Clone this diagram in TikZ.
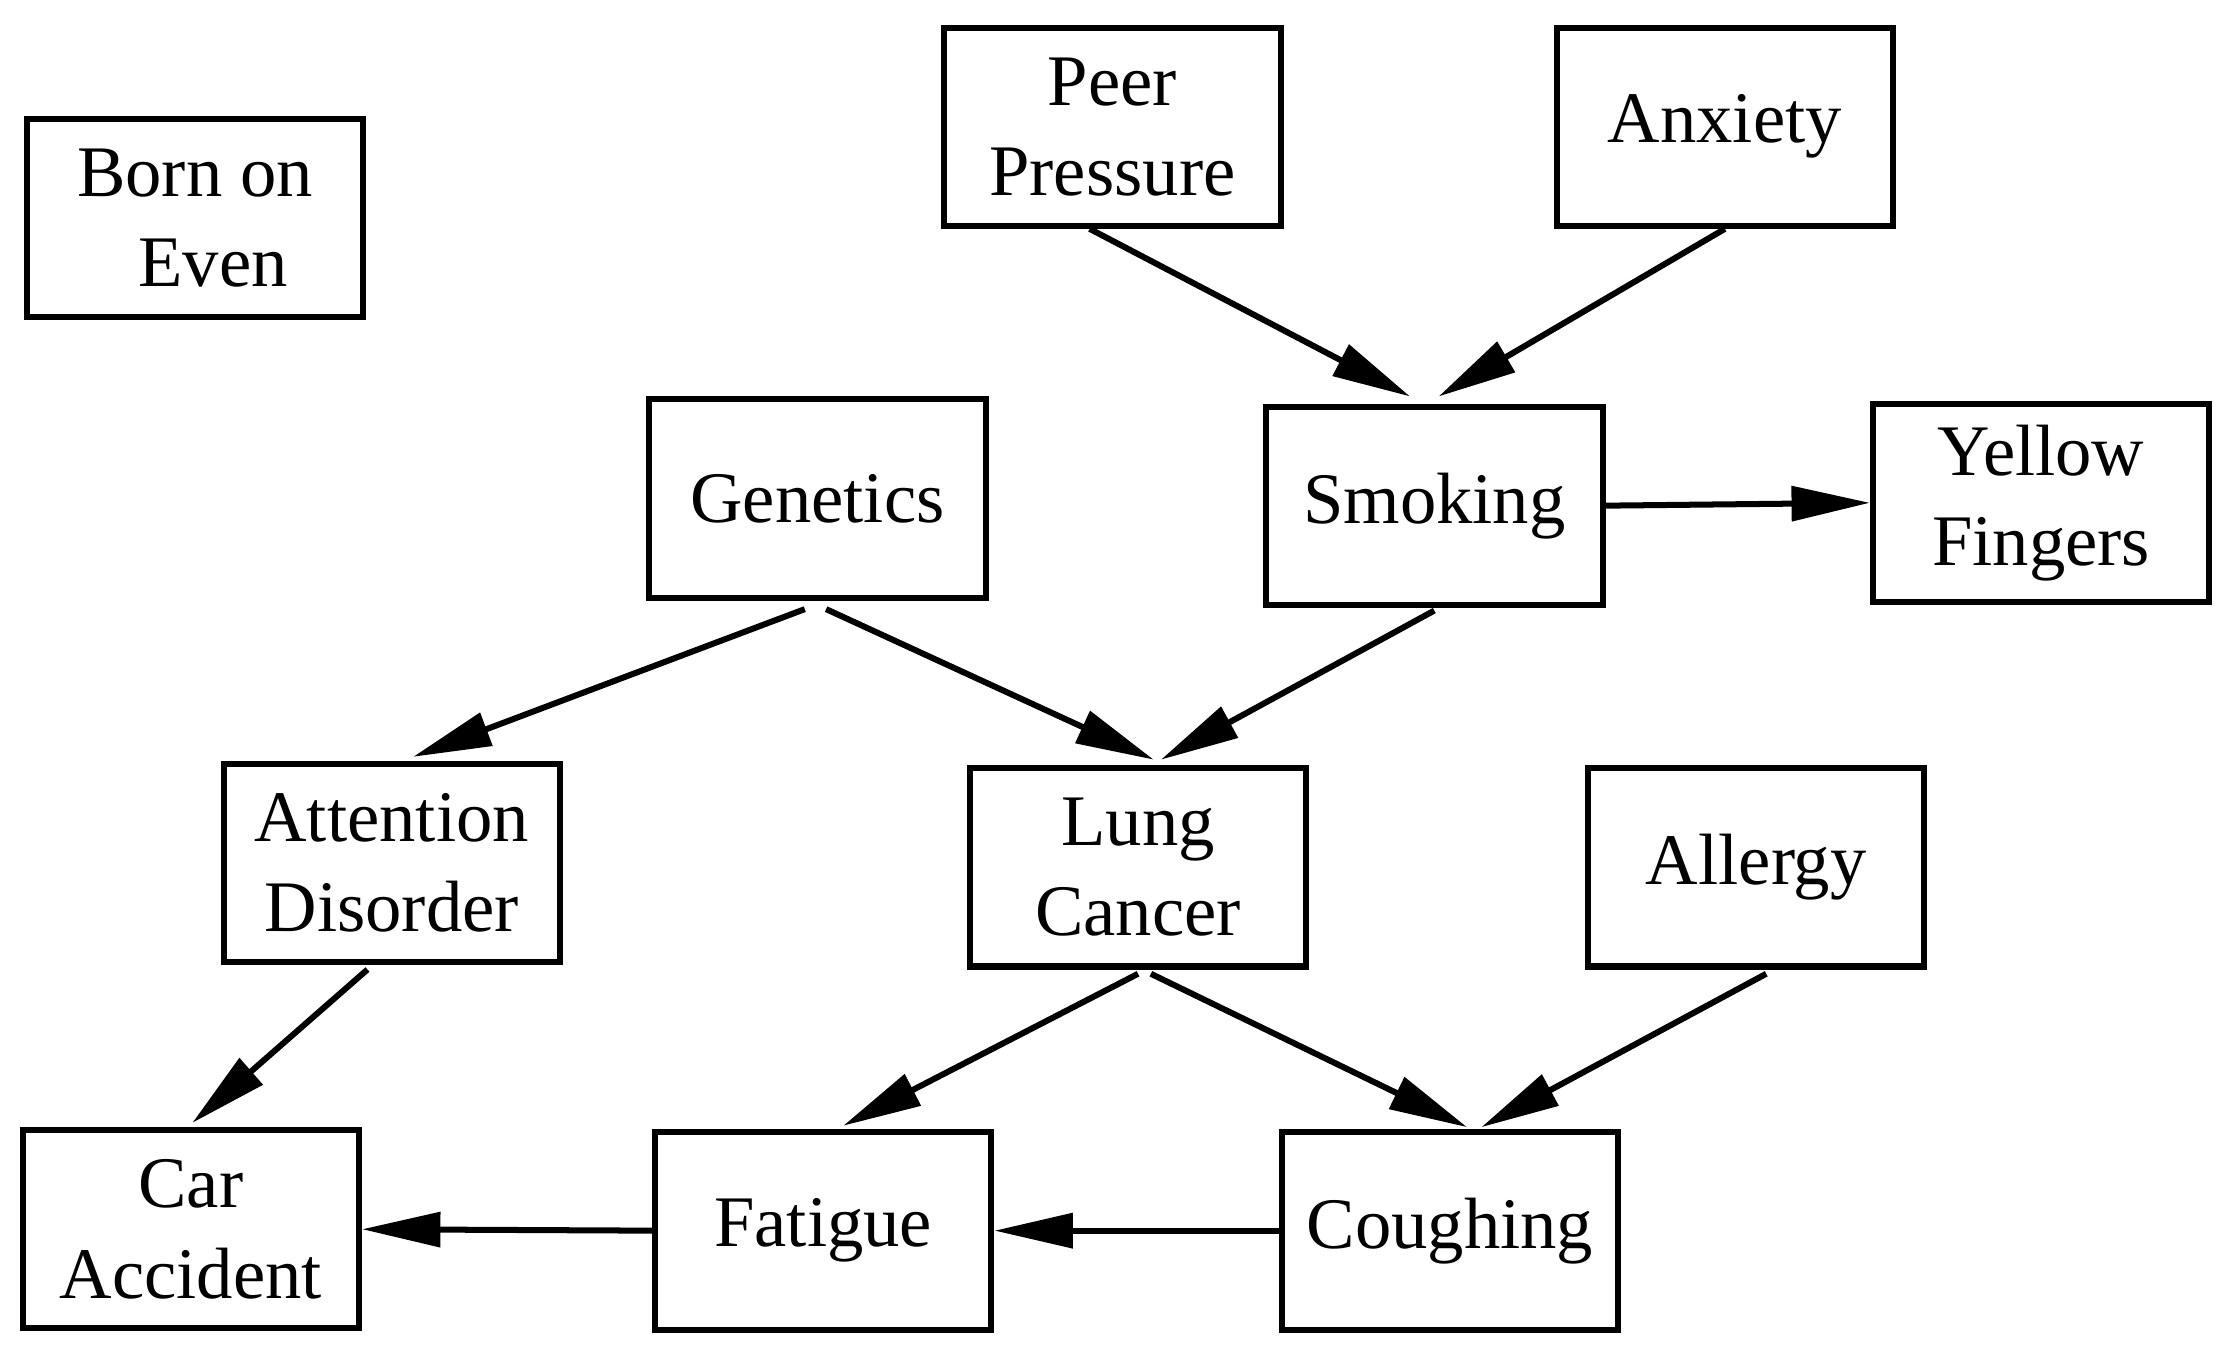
\documentclass[tikz,border=0pt]{standalone}
\usepackage{fontspec}
\setmainfont{Liberation Serif}
\usetikzlibrary{arrows.meta}
\begin{document}
\begin{tikzpicture}[x=0.01cm,y=-0.01cm,
  box/.style={draw,line width=1.2pt,minimum width=2.36cm,minimum height=1.39cm,align=center,inner sep=0pt,font=\fontsize{14.5}{18}\selectfont},
  ar/.style={line width=1.2pt,-{Triangle[length=5.5mm,width=2.4mm]}}]
\useasboundingbox (0,0) rectangle (1560,951);
\node[box] (born) at (137,153) {Born on\\ \hspace*{0.25cm}Even};
\node[box] (peer) at (781,89) {Peer\\Pressure};
\node[box] (anx) at (1211,89) {Anxiety};
\node[box] (gen) at (574,350) {Genetics};
\node[box] (smo) at (1007,355) {Smoking};
\node[box] (yel) at (1433,353) {Yellow\\Fingers};
\node[box] (att) at (275,606) {Attention\\Disorder};
\node[box] (lung) at (799,609) {Lung\\Cancer};
\node[box] (all) at (1233,609) {Allergy};
\node[box] (car) at (134,863) {Car\\Accident};
\node[box] (fat) at (578,864) {Fatigue};
\node[box] (cou) at (1018,864) {Coughing};
\draw[ar] ([xshift=-0.16cm]peer.south) -- ([xshift=-0.17cm,yshift=0.05cm]smo.north);
\draw[ar] (anx.south) -- ([xshift=0.03cm,yshift=0.05cm]smo.north);
\draw[ar] (smo.east) -- (yel.west);
\draw[ar] ([xshift=-0.09cm,yshift=-0.06cm]gen.south) -- ([xshift=0.15cm,yshift=0.03cm]att.north);
\draw[ar] ([xshift=0.06cm,yshift=-0.06cm]gen.south) -- ([xshift=0.11cm,yshift=0.04cm]lung.north);
\draw[ar] ([yshift=-0.02cm]smo.south) -- ([xshift=0.16cm,yshift=0.04cm]lung.north);
\draw[ar] ([xshift=-0.17cm,yshift=-0.03cm]att.south) -- ([xshift=0.01cm,yshift=0.03cm]car.north);
\draw[ar] ([yshift=-0.03cm]lung.south) -- ([xshift=0.14cm,yshift=0.02cm]fat.north);
\draw[ar] ([xshift=0.09cm,yshift=-0.03cm]lung.south) -- ([xshift=0.12cm,yshift=0.01cm]cou.north);
\draw[ar] ([xshift=0.07cm,yshift=-0.03cm]all.south) -- ([xshift=0.22cm,yshift=0.01cm]cou.north);
\draw[ar] (cou.west) -- (fat.east);
\draw[ar] (fat.west) -- (car.east);
\end{tikzpicture}
\end{document}
